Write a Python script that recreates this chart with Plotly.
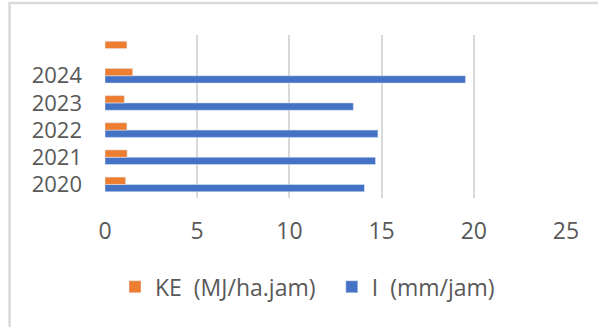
import plotly.graph_objects as go

categories = ["2020", "2021", "2022", "2023", "2024", " "]
ke_values = [1.12, 1.2, 1.19, 1.05, 1.5, 1.19]
i_values = [14.07, 14.67, 14.8, 13.47, 19.55, None]
x_ticks = [0, 5, 10, 15, 20, 25]

FONT = "Open Sans"
TXT = "#595959"
FS = 23

fig = go.Figure()
fig.add_trace(go.Bar(y=categories, x=i_values, orientation="h", name="I\u00a0\u00a0(mm/jam)",
                     marker=dict(color="#4472C4"), legend="legend2"))
fig.add_trace(go.Bar(y=categories, x=ke_values, orientation="h", name="KE\u00a0\u00a0(MJ/ha.jam)",
                     marker=dict(color="#ED7D31"), legend="legend"))

leg_common = dict(orientation="h", yanchor="middle", y=-0.545, xanchor="left",
                  font=dict(family=FONT, size=FS, color=TXT), itemclick=False,
                  bgcolor="rgba(0,0,0,0)")

fig.update_layout(
    width=598, height=327,
    margin=dict(l=105, r=32, t=35, b=129),
    paper_bgcolor="white", plot_bgcolor="white",
    barmode="group", bargap=0.46, bargroupgap=0,
    font=dict(family=FONT, size=FS, color=TXT),
    showlegend=True,
    legend=dict(x=0.0217, **leg_common),
    legend2=dict(x=0.492, **leg_common),
    xaxis=dict(range=[0, 25], tickvals=x_ticks, showgrid=True, gridcolor="#d9d9d9", gridwidth=2,
               zeroline=False, showline=False, ticks="", ticklabelstandoff=17,
               tickfont=dict(family=FONT, size=FS, color=TXT)),
    yaxis=dict(type="category", categoryorder="array", categoryarray=categories,
               tickmode="array", tickvals=categories, ticktext=categories,
               showgrid=False, zeroline=False, showline=False, ticks="", ticklabelstandoff=22,
               tickfont=dict(family=FONT, size=22, color=TXT)),
    shapes=[dict(type="rect", xref="paper", yref="paper", x0=-0.207, x1=1.3, y0=-1.0, y1=1.196,
                 line=dict(color="#d9d9d9", width=2.5), fillcolor="rgba(0,0,0,0)", layer="below")],
)

fig.write_html("out.html")
